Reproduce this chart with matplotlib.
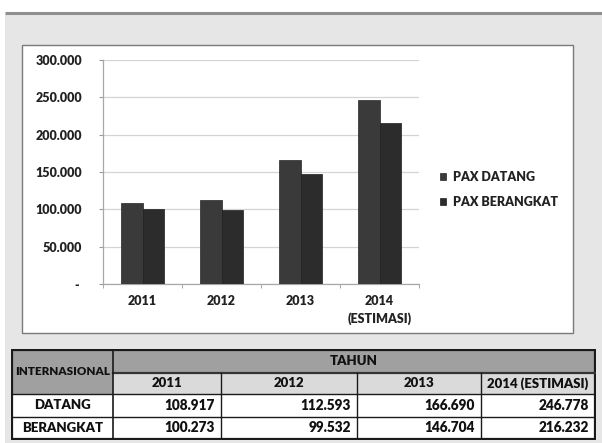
import matplotlib
matplotlib.use("Agg")
import matplotlib.pyplot as plt
from matplotlib.patches import Rectangle

plt.rcParams['font.family'] = ['Lato', 'DejaVu Sans']
plt.rcParams['font.weight'] = 'heavy'

categories = ["2011", "2012", "2013", "2014\n(ESTIMASI)"]
table_years = ["2011", "2012", "2013", "2014 (ESTIMASI)"]
datang = [108917, 112593, 166690, 246778]
berangkat = [100273, 99532, 146704, 216232]
series_names = ["PAX DATANG", "PAX BERANGKAT"]
row_labels = ["DATANG", "BERANGKAT"]
yticks = [0, 50000, 100000, 150000, 200000, 250000, 300000]
ytick_labels = ["- ", "50.000", "100.000", "150.000", "200.000", "250.000", "300.000"]

W, H = 602, 443
fig = plt.figure(figsize=(W / 100, H / 100), dpi=100, facecolor="white")

def px_axes(x0, y0, x1, y1, **kw):
    return fig.add_axes([x0 / W, (H - y1) / H, (x1 - x0) / W, (y1 - y0) / H], **kw)

# background
bg = px_axes(0, 0, W, H)
bg.set_xlim(0, W); bg.set_ylim(H, 0); bg.axis("off")
bg.add_patch(Rectangle((5, 14), W - 5, H - 14, facecolor="#e6e6e6", edgecolor="none"))
bg.plot([5, W], [12.7, 12.7], color="#8f8f8f", lw=2.2, solid_capstyle="butt")
bg.add_patch(Rectangle((22, 45), 551, 288, facecolor="white", edgecolor="#7a7a7a", lw=1.0))

# chart
ax = px_axes(103, 60, 419, 284)
x = list(range(len(categories)))
bw = 0.272
c1, c2 = "#3a3a3a", "#2c2c2c"
b1 = ax.bar([i - bw / 2 for i in x], datang, width=bw, color=c1, edgecolor="#262626", lw=0.5, zorder=3, label=series_names[0])
b2 = ax.bar([i + bw / 2 for i in x], berangkat, width=bw, color=c2, edgecolor="#1e1e1e", lw=0.5, zorder=3, label=series_names[1])
ax.set_xlim(-0.5, 3.5)
ax.set_ylim(0, 300000)
ax.set_yticks(yticks)
ax.set_yticklabels(ytick_labels, fontsize=9, color="#222222")
ax.set_xticks(x)
ax.set_xticklabels(categories, fontsize=9, color="#222222", linespacing=1.45)
ax.set_xticks([-0.5, 0.5, 1.5, 2.5, 3.5], minor=True)
ax.tick_params(axis="x", which="major", length=0, pad=8)
ax.tick_params(axis="x", which="minor", length=3, color="#999999", direction="out")
ax.tick_params(axis="y", length=3, color="#999999", pad=12)
ax.yaxis.grid(True, color="#d4d4d4", lw=0.9, zorder=0)
for s in ["top", "right"]:
    ax.spines[s].set_visible(False)
for s in ["left", "bottom"]:
    ax.spines[s].set_color("#a8a8a8")
    ax.spines[s].set_linewidth(0.9)
ax.set_facecolor("white")

fig.legend(handles=[b1, b2], labels=series_names, loc="center left",
           bbox_to_anchor=(429 / W, 1 - 189.5 / H), frameon=False, fontsize=9,
           handlelength=0.5, handleheight=0.5, handletextpad=0.5, labelspacing=1.0,
           labelcolor="#222222")

# table
tx = [12, 113, 221, 357, 481, 595]
ty = [350, 373, 394, 417, 439]
ta = px_axes(11, 349, 596, 440)
ta.set_xlim(11, 596); ta.set_ylim(440, 349); ta.axis("off")
head_gray = "#a0a0a0"
year_gray = "#dadada"
ta.add_patch(Rectangle((tx[0], ty[0]), tx[1] - tx[0], ty[2] - ty[0], facecolor=head_gray, edgecolor="none"))
ta.add_patch(Rectangle((tx[1], ty[0]), tx[5] - tx[1], ty[1] - ty[0], facecolor=head_gray, edgecolor="none"))
ta.add_patch(Rectangle((tx[1], ty[1]), tx[5] - tx[1], ty[2] - ty[1], facecolor=year_gray, edgecolor="none"))
ta.add_patch(Rectangle((tx[0], ty[2]), tx[5] - tx[0], ty[4] - ty[2], facecolor="white", edgecolor="none"))
lc = "#1a1a1a"
ta.add_patch(Rectangle((tx[0], ty[0]), tx[5] - tx[0], ty[4] - ty[0], facecolor="none", edgecolor=lc, lw=1.6))
ta.plot([tx[1], tx[5]], [ty[1], ty[1]], color="#333333", lw=1.6)
for yy in ty[2:4]:
    ta.plot([tx[0], tx[5]], [yy, yy], color=lc, lw=1.0)
ta.plot([tx[1], tx[1]], [ty[0], ty[4]], color=lc, lw=1.2)
for xx in tx[2:5]:
    ta.plot([xx, xx], [ty[1], ty[4]], color=lc, lw=1.0)

fs = 9.5
fsn = 9.8
ta.text((tx[0] + tx[1]) / 2, (ty[0] + ty[2]) / 2, "INTERNASIONAL", ha="center", va="center", fontsize=8.4, color="#111111")
ta.text((tx[1] + tx[5]) / 2, (ty[0] + ty[1]) / 2, "TAHUN", ha="center", va="center", fontsize=fs, color="#111111")
for j, yr in enumerate(table_years):
    ta.text((tx[j + 1] + tx[j + 2]) / 2, (ty[1] + ty[2]) / 2, yr, ha="center", va="center", fontsize=fs, color="#111111")

def fmt(v):
    return f"{v:,}".replace(",", ".")

for r, (lab, vals) in enumerate(zip(row_labels, [datang, berangkat])):
    yc = (ty[2 + r] + ty[3 + r]) / 2
    ta.text((tx[0] + tx[1]) / 2, yc, lab, ha="center", va="center", fontsize=fs, color="#111111")
    for j, v in enumerate(vals):
        ta.text(tx[j + 2] - 6, yc, fmt(v), ha="right", va="center", fontsize=fsn, color="#111111")

fig.savefig("out.png", dpi=100, facecolor="white")
